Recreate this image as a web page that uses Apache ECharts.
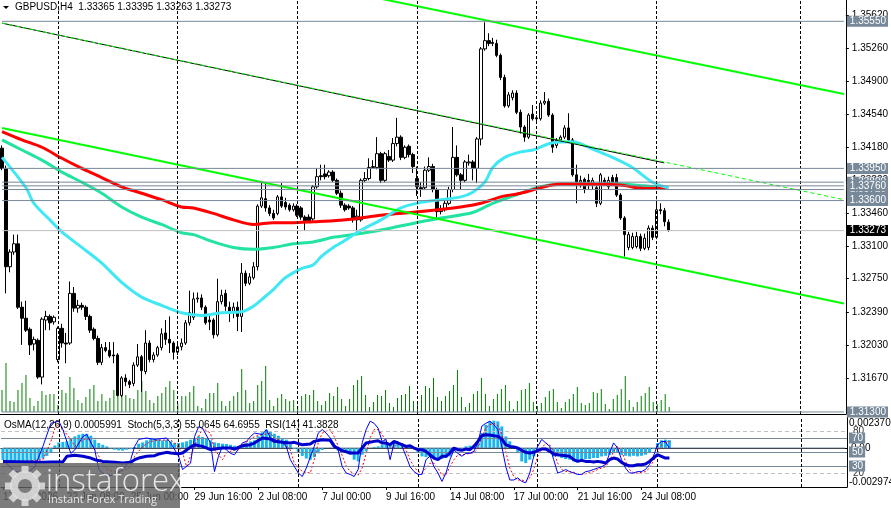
<!DOCTYPE html>
<html>
<head>
<meta charset="utf-8">
<title>GBPUSD H4</title>
<script src="https://cdn.jsdelivr.net/npm/echarts@6/dist/echarts.min.js"></script>
<style>
html, body { margin: 0; padding: 0; background: #fff; }
#chart { width: 891px; height: 508px; }
</style>
</head>
<body>
<div id="chart"></div>
<script>
// GBPUSD H4 – MT4 style chart: candles + MA + channels, OsMA / Stoch / RSI below

var FONT = "Liberation Sans, Arial, sans-serif";

// ---- categories: one slot per H4 bar (168 bars + empty space on the right) ----
var barCount = 212;
var categories = [];
for (var i = 0; i < barCount; i++) categories.push(String(i));

// time labels every 16 bars
var timeLabels = ["17 Jun 2026", "22 Jun 08:00", "25 Jun 00:00", "29 Jun 16:00", "2 Jul 08:00",
    "7 Jul 00:00", "9 Jul 16:00", "14 Jul 08:00", "17 Jul 00:00", "21 Jul 16:00", "24 Jul 08:00"];
var labelStep = 16;
var weekLines = [14, 44, 74, 104, 134, 164, 200];

// price scale
var priceMin = 1.31278, priceMax = 1.35782;
var priceTicks = [1.31670, 1.32030, 1.32390, 1.32750, 1.33100, 1.33460, 1.33820,
    1.34180, 1.34540, 1.34900, 1.35260, 1.35620];

// ---- OHLC ----
var opens = [1.3417,1.3395,1.3288,1.3304,1.3313,1.3244,1.3232,1.3220,1.3204,1.3208,
1.3168,1.3230,1.3234,1.3228,1.3187,1.3221,1.3205,1.3205,1.3259,1.3243,
1.3246,1.3244,1.3234,1.3220,1.3210,1.3184,1.3200,1.3197,1.3192,1.3192,
1.3148,1.3167,1.3163,1.3161,1.3181,1.3190,1.3174,1.3205,1.3187,1.3192,
1.3200,1.3216,1.3209,1.3205,1.3195,1.3201,1.3205,1.3227,1.3233,1.3253,
1.3254,1.3244,1.3230,1.3230,1.3214,1.3250,1.3259,1.3244,1.3238,1.3244,
1.3234,1.3281,1.3270,1.3276,1.3288,1.3354,1.3362,1.3352,1.3346,1.3346,
1.3364,1.3358,1.3355,1.3350,1.3354,1.3352,1.3342,1.3342,1.3340,1.3375,
1.3387,1.3389,1.3387,1.3391,1.3382,1.3368,1.3355,1.3354,1.3352,1.3339,
1.3339,1.3382,1.3384,1.3396,1.3396,1.3411,1.3382,1.3408,1.3404,1.3422,
1.3429,1.3407,1.3419,1.3410,1.3384,1.3374,1.3374,1.3393,1.3397,1.3372,
1.3348,1.3350,1.3357,1.3372,1.3407,1.3388,1.3382,1.3401,1.3402,1.3395,
1.3427,1.3525,1.3534,1.3532,1.3531,1.3518,1.3494,1.3463,1.3472,1.3477,
1.3456,1.3440,1.3429,1.3454,1.3450,1.3449,1.3466,1.3468,1.3453,1.3420,
1.3426,1.3429,1.3439,1.3426,1.3388,1.3380,1.3383,1.3382,1.3377,1.3374,
1.3357,1.3382,1.3375,1.3385,1.3385,1.3366,1.3341,1.3309,1.3309,1.3310,
1.3321,1.3308,1.3309,1.3330,1.3320,1.3350,1.3349,1.33365];

var closes = [1.3395,1.3288,1.3304,1.3313,1.3244,1.3232,1.3219,1.3203,1.3209,1.3168,
1.3231,1.3234,1.3227,1.3233,1.3221,1.3205,1.3204,1.3259,1.3243,1.3246,
1.3244,1.3234,1.3219,1.3210,1.3184,1.3200,1.3197,1.3191,1.3191,1.3148,
1.3167,1.3163,1.3160,1.3181,1.3190,1.3175,1.3205,1.3187,1.3192,1.3200,
1.3215,1.3209,1.3205,1.3195,1.3201,1.3205,1.3227,1.3238,1.3253,1.3254,
1.3244,1.3227,1.3228,1.3214,1.3250,1.3257,1.3245,1.3238,1.3244,1.3234,
1.3281,1.3270,1.3277,1.3288,1.3354,1.3363,1.3352,1.3346,1.3341,1.3364,
1.3354,1.3353,1.3350,1.3354,1.3344,1.3342,1.3338,1.3338,1.3375,1.3386,
1.3386,1.3386,1.3391,1.3382,1.3368,1.3355,1.3350,1.3352,1.3339,1.3343,
1.3382,1.3384,1.3396,1.3397,1.3411,1.3382,1.3411,1.3404,1.3422,1.3429,
1.3407,1.3418,1.3410,1.3397,1.3375,1.3372,1.3393,1.3397,1.3372,1.3348,
1.3350,1.3357,1.3372,1.3407,1.3388,1.3382,1.3402,1.3402,1.3395,1.3427,
1.3525,1.3534,1.3531,1.3531,1.3518,1.3494,1.3463,1.3475,1.3477,1.3456,
1.3440,1.3429,1.3453,1.3449,1.3449,1.3466,1.3468,1.3453,1.3418,1.3426,
1.3429,1.3439,1.3426,1.3388,1.3380,1.3382,1.3372,1.3380,1.3382,1.3357,
1.3388,1.3380,1.3382,1.3380,1.3366,1.3341,1.3323,1.3323,1.3321,1.3321,
1.3308,1.3319,1.3330,1.3320,1.3350,1.3349,1.3337,1.33273];

var lows = [1.3393,1.3259,1.3282,1.3301,1.3242,1.3203,1.3217,1.3192,1.3197,1.3166,
1.3160,1.3219,1.3219,1.3225,1.3184,1.3200,1.3183,1.3203,1.3239,1.3238,
1.3241,1.3230,1.3216,1.3208,1.3181,1.3181,1.3195,1.3189,1.3183,1.3147,
1.3146,1.3158,1.3156,1.3158,1.3179,1.3152,1.3171,1.3184,1.3184,1.3190,
1.3197,1.3203,1.3194,1.3187,1.3192,1.3197,1.3203,1.3224,1.3230,1.3249,
1.3241,1.3225,1.3219,1.3210,1.3212,1.3247,1.3240,1.3228,1.3232,1.3218,
1.3217,1.3267,1.3268,1.3274,1.3284,1.3352,1.3348,1.3343,1.3339,1.3344,
1.3352,1.3350,1.3348,1.3348,1.3342,1.3339,1.3327,1.3336,1.3338,1.3373,
1.3382,1.3383,1.3385,1.3380,1.3366,1.3352,1.3348,1.3350,1.3336,1.3325,
1.3337,1.3380,1.3382,1.3395,1.3394,1.3379,1.3380,1.3402,1.3402,1.3419,
1.3404,1.3405,1.3407,1.3390,1.3365,1.3364,1.3372,1.3391,1.3369,1.3341,
1.3345,1.3348,1.3355,1.3369,1.3386,1.3372,1.3380,1.3398,1.3382,1.3379,
1.3420,1.3523,1.3528,1.3528,1.3516,1.3491,1.3461,1.3461,1.3469,1.3454,
1.3433,1.3424,1.3427,1.3447,1.3445,1.3447,1.3464,1.3451,1.3412,1.3417,
1.3424,1.3427,1.3424,1.3386,1.3357,1.3374,1.3368,1.3372,1.3372,1.3353,
1.3355,1.3376,1.3372,1.3377,1.3364,1.3339,1.3299,1.3306,1.3307,1.3308,
1.3305,1.3306,1.3306,1.3317,1.3318,1.3345,1.3332,1.33263];

var highs = [1.3420,1.3398,1.3307,1.3323,1.3323,1.3250,1.3251,1.3222,1.3212,1.3210,
1.3233,1.3240,1.3236,1.3235,1.3223,1.3226,1.3216,1.3272,1.3266,1.3252,
1.3249,1.3246,1.3236,1.3222,1.3213,1.3204,1.3206,1.3206,1.3206,1.3194,
1.3169,1.3171,1.3165,1.3184,1.3204,1.3192,1.3219,1.3208,1.3195,1.3202,
1.3221,1.3230,1.3234,1.3207,1.3205,1.3210,1.3230,1.3262,1.3260,1.3260,
1.3258,1.3246,1.3235,1.3232,1.3275,1.3263,1.3263,1.3250,1.3249,1.3250,
1.3292,1.3284,1.3281,1.3293,1.3356,1.3380,1.3380,1.3355,1.3350,1.3366,
1.3379,1.3363,1.3357,1.3357,1.3356,1.3354,1.3344,1.3345,1.3377,1.3395,
1.3399,1.3399,1.3393,1.3393,1.3384,1.3371,1.3357,1.3356,1.3354,1.3350,
1.3384,1.3391,1.3406,1.3404,1.3429,1.3413,1.3413,1.3415,1.3428,1.3450,
1.3431,1.3420,1.3421,1.3412,1.3397,1.3380,1.3397,1.3407,1.3400,1.3374,
1.3355,1.3361,1.3375,1.3440,1.3420,1.3390,1.3404,1.3410,1.3404,1.3429,
1.3527,1.3554,1.3542,1.3537,1.3535,1.3520,1.3497,1.3478,1.3480,1.3480,
1.3459,1.3442,1.3455,1.3464,1.3453,1.3469,1.3478,1.3471,1.3455,1.3428,
1.3431,1.3442,1.3455,1.3428,1.3399,1.3387,1.3385,1.3389,1.3385,1.3377,
1.3390,1.3385,1.3386,1.3388,1.3389,1.3368,1.3343,1.3326,1.3325,1.3326,
1.3324,1.3324,1.3333,1.3333,1.3361,1.3357,1.3352,1.33395];

// tick volume (relative units)
var volumes = [22,49,11,10,22,29,37,14,6,11,21,17,18,18,7,22,19,35,24,12,
9,15,23,27,11,18,11,14,22,32,27,17,14,13,22,31,21,12,9,16,
19,25,31,22,8,16,16,20,26,6,4,13,19,19,29,11,6,11,16,20,
43,22,9,11,27,31,46,12,6,14,18,13,11,12,6,16,18,17,22,11,
7,11,19,16,25,13,6,13,27,32,36,17,5,10,17,16,22,9,5,14,
17,18,26,11,10,17,26,24,34,15,11,16,21,27,42,15,5,9,18,21,
34,18,6,13,18,23,27,11,3,11,22,23,29,10,6,9,15,21,23,10,
4,10,13,18,25,9,7,9,20,19,23,8,3,13,17,23,36,12,5,10,
16,19,25,10,8,12,18,5];

// ---- moving averages, read at points along each curve [bar, price] ----
var maCyan = [[0,1.3407],[6,1.3374],[8,1.3357],[12,1.3339],[15,1.3326],[20,1.3309],[25,1.3292],
[30,1.3271],[35,1.3255],[40,1.3246],[45,1.3238],[50,1.3235],[55,1.3238],[60,1.3239],[63,1.3245],
[65,1.3252],[68,1.3263],[71,1.3276],[75,1.3286],[78,1.3290],[80,1.3299],[83,1.3309],[85,1.3314],
[90,1.3328],[95,1.3339],[100,1.3352],[105,1.3358],[110,1.3361],[115,1.3364],[118,1.3369],
[121,1.3380],[123,1.3396],[126,1.3407],[130,1.3413],[133,1.3415],[138,1.3423],[143,1.3424],
[148,1.3416],[153,1.3407],[158,1.3396],[163,1.3380],[167,1.3374]];

var maRed = [[0,1.3435],[5,1.3426],[10,1.3418],[15,1.3406],[20,1.3395],[25,1.3385],[30,1.3375],
[35,1.3368],[40,1.3361],[45,1.3353],[48,1.3352],[53,1.3346],[58,1.3339],[63,1.3334],[68,1.3336],
[73,1.3336],[78,1.3337],[83,1.3338],[88,1.3340],[95,1.3344],[105,1.3348],[115,1.3353],
[120,1.3357],[125,1.3364],[130,1.3368],[135,1.3374],[140,1.3378],[155,1.3377],[159,1.3374],
[164,1.3373],[167,1.3373]];

var maAqua = [[0,1.3426],[5,1.3415],[10,1.3404],[15,1.3391],[20,1.3380],[25,1.3368],[30,1.3353],
[35,1.3342],[40,1.3334],[45,1.3325],[48,1.3323],[53,1.3315],[58,1.3309],[63,1.3307],[68,1.3309],
[73,1.3313],[78,1.3315],[83,1.3320],[88,1.3323],[95,1.3328],[105,1.3337],[110,1.3341],
[118,1.3347],[123,1.3357],[130,1.3368],[135,1.3375],[140,1.3378],[155,1.3378],[161,1.3376],
[167,1.3374]];

// ---- trend lines [bar, price] ----
var channelUpper = [[90,1.3584],[211,1.3476]];
var channelLower = [[0,1.3439],[211,1.3248]];
var trendSolid = [[0,1.3553],[166,1.3401]];
var trendDashed = [[0,1.3553],[211,1.3361]];

// ---- horizontal levels ----
var levelPrices = [1.35550, 1.33950, 1.33800, 1.33720, 1.33760, 1.33600, 1.31300];
var markedLevel = 1.33760;
var lastPrice = 1.33273;
var levelStart = 0, levelEnd = 211;

// ---- oscillators ----
var osmaMin = -0.002974, osmaMax = 0.002370;
var osma = [-0.0009,-0.00095,-0.001,-0.00105,-0.00105,-0.001,-0.001,-0.00098,-0.00095,-0.0009,
-0.0008,-0.0006,-0.0003,0.0002,0.00043,0.00046,0.00051,0.00076,0.00089,0.00102,
0.00109,0.00109,0.00094,0.00064,0.00038,0.00025,0.00013,-0.00005,-0.00013,-0.00018,
-0.0002,-0.00013,-0.00008,0.00008,0.00033,0.00043,0.00059,0.00069,0.00069,0.00064,
0.00059,0.00064,0.00051,0.00038,0.00038,0.00043,0.00051,0.00064,0.00076,0.00089,
0.00084,0.00076,0.00059,0.00043,0.00038,0.00033,0.00031,0.00025,0.00018,0.00013,
0.00018,0.00038,0.00051,0.00059,0.00089,0.0012,0.0014,0.00127,0.00109,0.00094,
0.00076,0.00064,0.00025,-0.00008,-0.00033,-0.0006,-0.0008,-0.0009,-0.0007,-0.0004,
-0.00015,0,0.00002,0.00002,-0.0002,-0.00033,-0.00038,-0.00051,-0.00089,-0.00102,
-0.00051,-0.00025,0,0.00008,0.00013,0.00025,0.00038,0.00038,0.00043,0.00033,
0.00025,0.00018,0.00008,-0.00008,-0.00038,-0.00064,-0.00069,-0.00064,-0.00076,-0.00089,
-0.00084,-0.00076,-0.00064,-0.00025,-0.00013,-0.00008,0.00013,0.00018,0.00025,0.00051,
0.00115,0.00178,0.00204,0.00209,0.00204,0.00165,0.00089,0.00051,0.00013,-0.00038,
-0.00102,-0.00115,-0.00089,-0.00064,-0.00025,-0.00013,-0.00018,-0.00038,-0.00064,-0.00064,
-0.00076,-0.00084,-0.00089,-0.00102,-0.00094,-0.00089,-0.00084,-0.00084,-0.00076,-0.00076,
-0.00064,-0.00059,-0.00051,-0.00038,-0.00038,-0.00051,-0.00059,-0.00064,-0.00059,-0.00064,
-0.00059,-0.00051,-0.00033,-0.00008,0.00038,0.00059,0.00064,0.0006];

var stochMain = [[0,39],[3,22],[6,20],[8,29],[10,58],[12,91],[14,94],[15,82],[17,48],[18,53],[20,72],
[21,75],[23,53],[24,25],[26,15],[28,18],[30,25],[32,39],[33,58],[34,68],[36,70],[38,68],[41,70],
[42,63],[44,44],[45,25],[47,34],[48,72],[49,86],[50,84],[52,63],[53,22],[54,44],[55,58],[57,48],
[58,46],[60,63],[61,65],[62,72],[63,77],[65,75],[66,82],[67,70],[68,68],[70,63],[71,58],[72,39],
[74,20],[75,15],[76,27],[78,58],[79,77],[80,82],[81,77],[82,70],[84,53],[85,29],[86,20],[87,18],
[88,15],[89,25],[90,63],[91,82],[92,94],[93,91],[94,84],[95,65],[96,68],[97,39],[98,63],[99,65],
[100,58],[101,44],[102,29],[103,22],[104,18],[105,18],[106,39],[107,44],[108,29],[109,20],[110,8],
[111,20],[112,39],[113,53],[114,48],[115,44],[116,48],[117,48],[118,51],[119,63],[120,87],[121,91],
[122,94],[123,89],[124,82],[125,58],[126,29],[127,10],[128,10],[129,13],[130,8],[131,6],[132,20],
[133,44],[134,58],[135,68],[136,63],[137,58],[138,39],[139,20],[140,22],[141,25],[142,22],[143,20],
[144,18],[145,18],[146,22],[147,23],[148,25],[149,27],[150,29],[151,32],[152,48],[153,63],[154,56],
[155,39],[156,27],[157,20],[158,20],[159,22],[160,22],[161,25],[162,32],[163,44],[164,60],[165,65],
[166,65],[167,55.06]];

var stochSignal = [[0,34],[10,39],[12,65],[13,84],[14,91],[15,82],[17,68],[18,58],[19,63],[21,70],
[22,63],[24,44],[26,25],[29,20],[32,29],[33,44],[35,58],[37,65],[39,67],[42,67],[43,63],[45,49],
[46,29],[47,44],[49,72],[50,84],[52,77],[53,53],[55,39],[56,49],[58,53],[59,53],[60,60],[62,68],
[63,72],[65,75],[67,77],[68,70],[70,65],[72,53],[73,34],[75,22],[77,20],[78,39],[79,63],[80,77],
[82,82],[83,72],[85,45],[86,30],[87,22],[89,17],[90,27],[91,48],[92,70],[93,82],[94,82],[95,75],
[96,65],[97,58],[98,56],[99,63],[100,60],[101,53],[102,39],[103,29],[104,22],[105,20],[106,27],
[107,34],[108,34],[109,27],[110,17],[111,17],[112,29],[113,39],[114,46],[115,46],[116,47],[117,48],
[118,49],[119,55],[120,72],[121,84],[122,89],[123,91],[124,88],[125,75],[126,51],[127,27],[128,15],
[129,10],[130,10],[131,8],[132,13],[133,25],[134,44],[135,55],[136,63],[137,60],[138,51],[139,34],
[140,25],[141,22],[142,22],[143,21],[144,19],[145,18],[146,19],[147,21],[148,22],[149,25],[150,27],
[151,29],[152,37],[153,51],[154,58],[155,51],[156,37],[157,25],[158,20],[159,20],[160,21],[161,22],
[162,27],[163,37],[164,49],[165,60],[166,64.7],[167,64.7]];

var rsi = [[0,36.6],[10,35.2],[12,35.7],[15,35.7],[16,43.8],[18,45.2],[20,43.8],[22,41.4],[23,39],
[25,36.6],[27,35.7],[28,35.2],[30,34.2],[32,35.2],[33,39],[34,41.4],[36,43.8],[38,44.7],[39,47.1],
[41,49.5],[42,48.5],[44,47.6],[45,48.5],[47,57.1],[48,60.4],[50,58],[52,53.3],[53,54.2],[55,55.7],
[57,55.7],[58,54.2],[60,59],[62,60.4],[63,62.8],[65,70],[67,68.5],[68,65.2],[70,63.8],[72,62.8],
[73,63.8],[75,60.4],[77,61.4],[78,65.2],[80,67.6],[82,66.6],[83,58],[85,52],[87,48.5],[89,48.5],
[90,55.7],[91,62.8],[93,65.2],[94,66.1],[95,62.8],[96,62.8],[97,60.4],[98,65.2],[99,62.8],[100,60.4],
[101,58],[102,59],[103,55.7],[104,53.3],[105,53.3],[106,50.9],[107,46.1],[108,41.4],[109,39],
[110,43.8],[111,43.8],[112,48.5],[113,55.7],[114,53.3],[115,52.3],[116,54.2],[117,53.3],[118,58],
[119,65.2],[120,73.3],[121,74.7],[122,74.2],[123,73.3],[124,72.3],[125,68.5],[126,60.4],[127,58],
[128,57.1],[129,55.7],[130,52.3],[131,49.5],[132,48.5],[133,49.5],[134,51.9],[135,54.2],[136,54.2],
[137,50.9],[138,47.1],[139,46.1],[140,45.2],[141,44.7],[142,43.8],[143,39],[144,36.6],[145,38],
[146,36.6],[147,36.6],[148,35.7],[149,36.6],[150,35.7],[151,34.2],[152,39],[153,41.4],[154,40],
[155,35.2],[156,31.9],[157,30.4],[158,30.4],[159,31.9],[160,31.9],[161,32.8],[162,36.6],[163,41.4],
[164,46.1],[165,43.8],[166,41.4],[167,41.38]];

var stochLevels = [80, 20];
var rsiLevels = [70, 50, 30];

// ---- styling ----
var levelColor = "#778899";

(function () {
    "use strict";

    var chart = echarts.init(document.getElementById("chart"), null, { renderer: "canvas" });

    var candleData = opens.map(function (o, k) { return [o, closes[k], lows[k], highs[k]]; });

    function plainLabel(text, color) {
        return {
            show: true, position: "end", distance: 2, formatter: text,
            color: color || "#000", padding: [0, 0, 0, 4],
            fontSize: 10, fontFamily: FONT, lineHeight: 10
        };
    }

    function weekLineItems() {
        return weekLines.map(function (b) {
            return { xAxis: String(b), lineStyle: { color: "#000", width: 1, type: [3, 2] }, label: { show: false } };
        });
    }

    /** horizontal line drawn as its own series with a label at the right axis */
    function hLine(value, opts) {
        return {
            name: opts.name || ("level " + value), type: "line",
            xAxisIndex: opts.xAxisIndex || 0, yAxisIndex: opts.yAxisIndex || 0, silent: true, z: opts.z || 6,
            data: [[levelStart, value], [levelEnd, value]],
            symbol: opts.marked ? "emptyRect" : "none", symbolSize: 5, showSymbol: !!opts.marked,
            lineStyle: { color: opts.lineColor, width: 1 },
            itemStyle: { color: "#fff", borderColor: opts.lineColor, borderWidth: 1 },
            endLabel: {
                show: true, distance: 3, formatter: opts.text,
                color: opts.textColor || "#fff", backgroundColor: opts.boxColor || "transparent",
                padding: opts.padding || [1, 2, 0, 3],
                fontSize: 10, fontFamily: FONT, lineHeight: 10
            }
        };
    }

    var levelSeriesList = levelPrices.map(function (p) {
        return hLine(p, { text: p.toFixed(5), lineColor: levelColor, boxColor: levelColor, marked: p === markedLevel });
    });
    levelSeriesList.push(hLine(lastPrice, { text: lastPrice.toFixed(5), lineColor: "#c0c0c0", boxColor: "#000" }));

    // OsMA axis: zero line and min / max captions
    var osmaSpan = osmaMax - osmaMin;
    var clear = "rgba(0,0,0,0)";
    var osmaLines = [
        hLine(0, { name: "osma zero", xAxisIndex: 2, yAxisIndex: 3, lineColor: levelColor, text: "0.00", textColor: "#000", z: 3 }),
        hLine(osmaMax - osmaSpan * 6 / 70, { name: "osma max", xAxisIndex: 2, yAxisIndex: 3, lineColor: clear,
            text: osmaMax.toFixed(6), textColor: "#000", z: 3, padding: [0, 0, 0, 1] }),
        hLine(osmaMin + osmaSpan * 5 / 70, { name: "osma min", xAxisIndex: 2, yAxisIndex: 3, lineColor: clear,
            text: osmaMin.toFixed(6), textColor: "#000", z: 3, padding: [0, 0, 0, 1] })
    ];

    // oscillator level lines
    var oscItems = [];
    stochLevels.forEach(function (v) {
        oscItems.push({ yAxis: v, lineStyle: { color: "#c0c0c0", width: 1, type: [4, 3] }, label: plainLabel(String(v), "#333") });
    });
    rsiLevels.forEach(function (v) {
        oscItems.push({
            yAxis: v, lineStyle: { color: levelColor, width: 1, type: "solid" },
            label: { show: true, position: "end", distance: 2, formatter: String(v), color: "#fff",
                backgroundColor: levelColor, padding: [1, 2, 0, 3], fontSize: 10, fontFamily: FONT, lineHeight: 10 }
        });
    });
    oscItems = oscItems.concat(weekLineItems());

    function lineSeries(name, data, color, width, z, type) {
        return {
            name: name, type: "line", data: data, xAxisIndex: 0, yAxisIndex: 0,
            symbol: "none", smooth: false, z: z, clip: true, silent: true,
            lineStyle: { color: color, width: width, type: type || "solid" }
        };
    }

    function maSeries(name, data, color) {
        var s = lineSeries(name, data, color, 3, 3);
        s.smooth = 0.3;
        return s;
    }

    var lowerChannel = lineSeries("channelLower", channelLower, "#00ff00", 2, 4);
    lowerChannel.markLine = { silent: true, animation: false, symbol: ["none", "none"], data: weekLineItems() };

    var series = [
        lowerChannel,
        { name: "Volume", type: "bar", data: volumes, xAxisIndex: 1, yAxisIndex: 1, barWidth: 1, z: 1,
          itemStyle: { color: "#008000" } },
        { name: "GBPUSD", type: "candlestick", data: candleData, xAxisIndex: 0, yAxisIndex: 0, barWidth: 3, z: 2,
          itemStyle: { color: "#ffffff", color0: "#000000", borderColor: "#000000", borderColor0: "#000000", borderWidth: 1 } },
        maSeries("MA aqua", maAqua, "#22e3a0"),
        maSeries("MA red", maRed, "#ff0000"),
        maSeries("MA cyan", maCyan, "#40e8f4"),
        lineSeries("channelUpper", channelUpper, "#00ff00", 2, 4),
        lineSeries("trend", trendSolid, "#000000", 1, 4),
        lineSeries("trend dashed", trendDashed, "#00ff00", 1, 4, [4, 3])
    ].concat(levelSeriesList).concat([
        { name: "OsMA", type: "bar", data: osma, xAxisIndex: 2, yAxisIndex: 3, barWidth: 3, z: 2,
          itemStyle: { color: "#1ab4ef" } }
    ]).concat(osmaLines).concat([
        { name: "Stoch signal", type: "line", data: stochSignal, xAxisIndex: 2, yAxisIndex: 2, symbol: "none", z: 4,
          lineStyle: { color: "#ff0000", width: 1, type: [2, 2] } },
        { name: "Stoch", type: "line", data: stochMain, xAxisIndex: 2, yAxisIndex: 2, symbol: "none", z: 5,
          lineStyle: { color: "#0000ff", width: 1 },
          markLine: { silent: true, animation: false, symbol: ["none", "none"], data: oscItems } },
        { name: "RSI", type: "line", data: rsi, xAxisIndex: 2, yAxisIndex: 2, symbol: "none", z: 5,
          lineStyle: { color: "#0000cd", width: 3 } }
    ]);

    var gearTeeth = [0, 1, 2, 3, 4, 5, 6, 7].map(function (k) {
        return { type: "rect", z: 101, rotation: k * Math.PI / 4,
            shape: { x: -3.5, y: -20, width: 7, height: 7 }, style: { fill: "rgba(225,225,225,0.85)" } };
    });

    var option = {
        animation: false,
        backgroundColor: "#ffffff",
        textStyle: { fontFamily: FONT },
        grid: [
            { left: -1, right: 44, top: 0, height: 414 },
            { left: -1, right: 44, top: 312, height: 100 },
            { left: -1, right: 44, top: 417, height: 70 }
        ],
        xAxis: [
            { type: "category", data: categories, gridIndex: 0, boundaryGap: true,
              axisLine: { lineStyle: { color: "#000", width: 1 } }, axisTick: { show: false }, axisLabel: { show: false } },
            { type: "category", data: categories, gridIndex: 1, boundaryGap: true, show: false },
            { type: "category", data: categories, gridIndex: 2, boundaryGap: true, position: "bottom",
              axisLine: { lineStyle: { color: "#000", width: 1 } },
              axisTick: { show: true, alignWithLabel: true, length: 3, lineStyle: { color: "#000" },
                  interval: function (idx) { return idx % labelStep === 0 && idx / labelStep < timeLabels.length; } },
              axisLabel: { show: true, align: "left", margin: 5, fontSize: 10, color: "#000", fontFamily: FONT,
                  interval: function (idx) { return idx % labelStep === 0 && idx / labelStep < timeLabels.length; },
                  formatter: function (v, idx) { return timeLabels[idx / labelStep] || ""; } } },
            { type: "category", data: categories, gridIndex: 2, boundaryGap: true, position: "top",
              axisLine: { lineStyle: { color: "#000", width: 1 } }, axisTick: { show: false }, axisLabel: { show: false } }
        ],
        yAxis: [
            { type: "value", gridIndex: 0, position: "right", min: priceMin, max: priceMax,
              axisLine: { show: true, lineStyle: { color: "#000", width: 1 } },
              axisTick: { show: true, customValues: priceTicks, length: 3, lineStyle: { color: "#000" } },
              axisLabel: { show: true, customValues: priceTicks, margin: 6, fontSize: 10, color: "#000", fontFamily: FONT,
                  formatter: function (v) { return v.toFixed(5); } },
              splitLine: { show: false } },
            { type: "value", gridIndex: 1, min: 0, max: 100, show: false },
            { type: "value", gridIndex: 2, position: "right", min: 0, max: 100,
              axisLine: { show: true, lineStyle: { color: "#000", width: 1 } },
              axisTick: { show: false }, axisLabel: { show: false }, splitLine: { show: false } },
            { type: "value", gridIndex: 2, min: osmaMin, max: osmaMax, show: false }
        ],
        series: series,
        graphic: [
            { type: "polygon", z: 100, shape: { points: [[3, 6], [9, 6], [6, 9]] }, style: { fill: "#000" } },
            { type: "text", z: 100, x: 15, y: 2,
              style: { text: "GBPUSD,H4  1.33365 1.33395 1.33263 1.33273", font: "10px " + FONT, fill: "#000" } },
            { type: "text", z: 100, x: 4, y: 420,
              style: { text: "OsMA(12,26,9) 0.0005991  Stoch(5,3,3) 55.0645 64.6955  RSI(14) 41.3828", font: "10px " + FONT, fill: "#000" } },
            // watermark
            { type: "rect", z: 100, shape: { x: 0, y: 463, width: 180, height: 45 }, style: { fill: "rgba(95,95,95,0.82)" } },
            { type: "ring", z: 101, shape: { cx: 25, cy: 486, r: 15, r0: 7 }, style: { fill: "rgba(225,225,225,0.85)" } },
            { type: "group", z: 101, x: 25, y: 486, children: gearTeeth },
            { type: "text", z: 101, x: 46, y: 467,
              style: { text: "instaforex", font: "300 31px 'Open Sans', sans-serif", fill: "rgba(240,240,240,0.92)" } },
            { type: "text", z: 101, x: 48, y: 494,
              style: { text: "Instant Forex Trading", font: "11px 'Open Sans', sans-serif", fill: "rgba(240,240,240,0.92)" } }
        ]
    };

    chart.setOption(option);
})();
</script>
</body>
</html>
